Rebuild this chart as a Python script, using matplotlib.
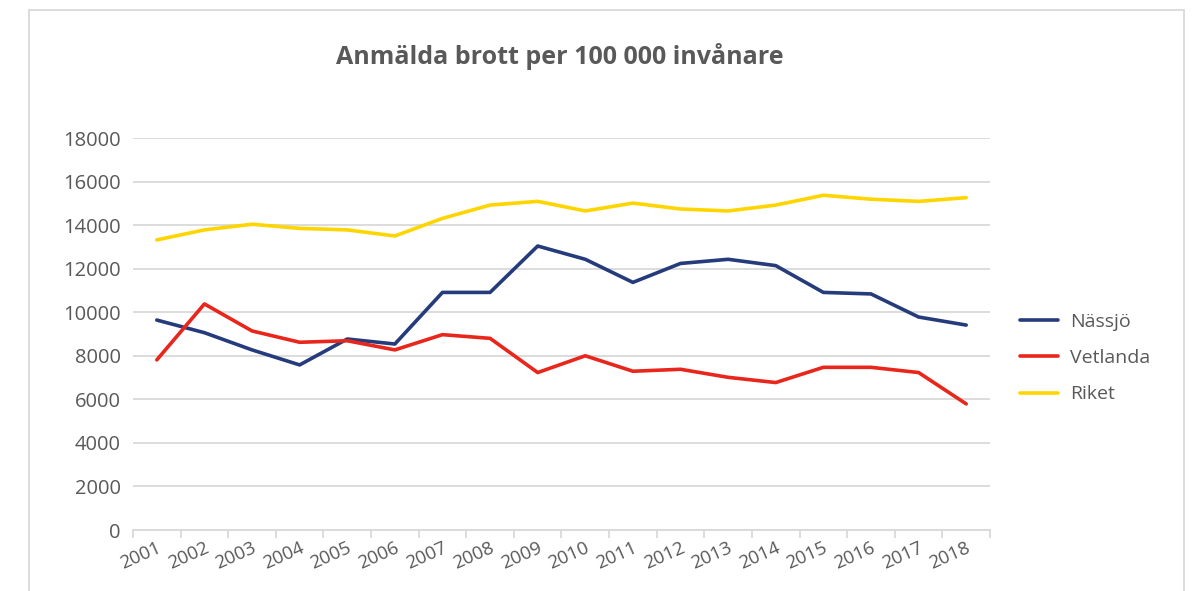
"""Anmälda brott per 100 000 invånare - Nässjö, Vetlanda, Riket"""
import matplotlib
matplotlib.use('Agg')
import matplotlib.pyplot as plt
import matplotlib.transforms as mtransforms
from matplotlib.patches import Rectangle

# data
years = ['2001', '2002', '2003', '2004', '2005', '2006', '2007', '2008', '2009',
         '2010', '2011', '2012', '2013', '2014', '2015', '2016', '2017', '2018']
nassjo = [9640, 9060, 8270, 7580, 8770, 8540, 10910, 10910, 13040,
          12430, 11370, 12240, 12430, 12140, 10910, 10840, 9780, 9410]
vetlanda = [7810, 10380, 9140, 8620, 8690, 8270, 8970, 8800, 7230,
            8000, 7290, 7380, 7010, 6770, 7470, 7470, 7230, 5790]
riket = [13320, 13780, 14040, 13850, 13780, 13500, 14310, 14920, 15090,
         14650, 15010, 14740, 14650, 14920, 15370, 15190, 15090, 15260]
y_ticks = [0, 2000, 4000, 6000, 8000, 10000, 12000, 14000, 16000, 18000]

text_col = '#595959'
grid_col = '#d9d9d9'
plt.rcParams['font.family'] = ['Open Sans', 'DejaVu Sans']

fig = plt.figure(figsize=(11.95, 5.91), dpi=100)
ax = fig.add_axes([133 / 1195, 1 - 530 / 591, 857 / 1195, 392 / 591])

# outer chart frame
fig.patches.append(Rectangle((29 / 1195, -0.1), (1184 - 29) / 1195, 1.1 - 10 / 591,
                             transform=fig.transFigure, fill=False,
                             edgecolor=grid_col, linewidth=1.3))

x = list(range(len(years)))
ax.plot(x, nassjo, color='#253b7b', linewidth=2.6, label='Nässjö', solid_capstyle='round')
ax.plot(x, vetlanda, color='#e8261c', linewidth=2.6, label='Vetlanda', solid_capstyle='round')
ax.plot(x, riket, color='#ffd500', linewidth=2.6, label='Riket', solid_capstyle='round')

ax.set_xlim(-0.5, len(years) - 0.5)
ax.set_ylim(0, 18000)
ax.set_yticks(y_ticks)
ax.set_yticklabels([str(v) for v in y_ticks])
ax.yaxis.grid(True, color=grid_col, linewidth=1.3)
ax.set_axisbelow(True)

for side in ['top', 'right', 'left']:
    ax.spines[side].set_visible(False)
ax.spines['bottom'].set_color(grid_col)
ax.spines['bottom'].set_linewidth(1.3)

ax.tick_params(axis='y', length=0, pad=9, labelsize=14.5, labelcolor=text_col)

# category labels centred, tick marks on category boundaries
ax.set_xticks(x)
ax.set_xticklabels(years, rotation=24, ha='right')
ax.set_xticks([i - 0.5 for i in range(len(years) + 1)], minor=True)
ax.tick_params(axis='x', which='major', length=0, pad=6, labelsize=13.5, labelcolor=text_col)
ax.tick_params(axis='x', which='minor', length=6, width=1.3, color=grid_col)
shift = mtransforms.ScaledTranslation(7 / 100, 0, fig.dpi_scale_trans)
for lbl in ax.get_xticklabels():
    lbl.set_transform(lbl.get_transform() + shift)

fig.text(560 / 1195, 1 - 56 / 591, 'Anmälda brott per 100 000 invånare',
         ha='center', va='center', fontsize=18, fontweight='bold', color=text_col)

lgd = ax.legend(loc='center left', bbox_to_anchor=(1002 / 1195, 1 - 358 / 591),
                bbox_transform=fig.transFigure, frameon=False, fontsize=14,
                handlelength=2.0, handletextpad=0.6, labelspacing=0.95)
for t in lgd.get_texts():
    t.set_color(text_col)

plt.savefig('out.png', dpi=100)
